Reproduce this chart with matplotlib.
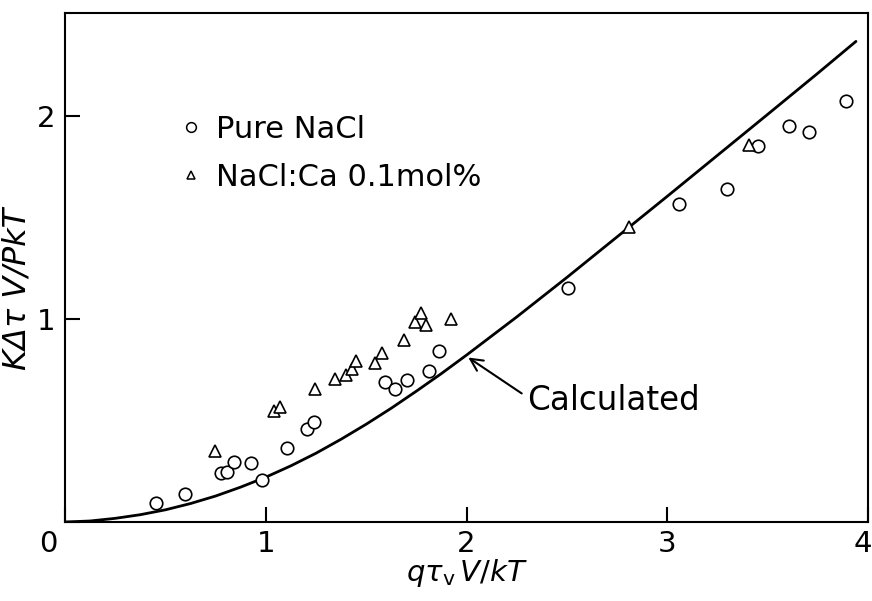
import matplotlib
matplotlib.use("Agg")
import matplotlib.pyplot as plt
from matplotlib.transforms import ScaledTranslation
from matplotlib.lines import Line2D

# --- data ---
pure_x = [0.453, 0.598, 0.777, 0.809, 0.843, 0.927, 0.983, 1.106, 1.204, 1.239,
          1.596, 1.645, 1.702, 1.815, 1.861, 2.507, 3.059, 3.296, 3.450, 3.608,
          3.706, 3.890]
pure_y = [0.095, 0.138, 0.240, 0.248, 0.296, 0.289, 0.205, 0.363, 0.458, 0.493,
          0.691, 0.654, 0.700, 0.745, 0.844, 1.156, 1.568, 1.640, 1.852, 1.954,
          1.923, 2.074]

ca_x = [0.746, 1.043, 1.071, 1.247, 1.345, 1.398, 1.431, 1.450, 1.546, 1.578,
        1.690, 1.745, 1.772, 1.798, 1.924, 2.811, 3.409]
ca_y = [0.351, 0.548, 0.565, 0.655, 0.703, 0.723, 0.755, 0.795, 0.782, 0.831,
        0.897, 0.985, 1.031, 0.969, 1.003, 1.455, 1.857]

calc_x = [0, 0.125, 0.25, 0.375, 0.5, 0.625, 0.75, 0.875, 1.0, 1.125, 1.25,
          1.375, 1.5, 1.625, 1.75, 1.875, 2.0, 2.25, 2.5, 2.75, 3.0, 3.25,
          3.5, 3.75, 3.94]
calc_y = [0, 0.005, 0.018, 0.036, 0.060, 0.091, 0.128, 0.172, 0.221, 0.277,
          0.339, 0.408, 0.482, 0.561, 0.645, 0.732, 0.823, 1.011, 1.206, 1.406,
          1.606, 1.808, 2.010, 2.213, 2.370]

x_ticks = [0, 1, 2, 3, 4]
x_tick_labels = ["0", "1", "2", "3", "4"]
y_ticks = [0, 1, 2]
y_tick_labels = ["", "1", "2"]

legend_labels = ["Pure NaCl", "NaCl:Ca 0.1mol%"]

plt.rcParams['font.family'] = ['DejaVu Sans']
plt.rcParams['mathtext.fontset'] = 'dejavusans'

fig = plt.figure(figsize=(8.72, 6.01), dpi=100)
ax = fig.add_axes([65/872, 1-522/601, (868-65)/872, (522-13)/601])

ax.plot(calc_x, calc_y, color='black', lw=2.0, solid_capstyle='round',
        solid_joinstyle='round')
ax.plot(pure_x, pure_y, linestyle='none', marker='o', ms=9, mfc='white',
        mec='black', mew=1.2)
ax.plot(ca_x, ca_y, linestyle='none', marker='^', ms=8, mfc='white',
        mec='black', mew=1.2)

ax.set_xlim(0, 4)
ax.set_ylim(0, 2.51)
ax.set_xticks(x_ticks)
ax.set_xticklabels(x_tick_labels)
ax.set_yticks(y_ticks)
ax.set_yticklabels(y_tick_labels)
ax.tick_params(direction='in', length=11, width=1.5, labelsize=21, pad=7)
ax.tick_params(axis='x', pad=6)

for s in ax.spines.values():
    s.set_linewidth(1.5)

# corner "0" sits left of the corner; "4" kept inside the figure
xl = ax.get_xticklabels()
xl[0].set_transform(xl[0].get_transform() + ScaledTranslation(-0.17, 0, fig.dpi_scale_trans))
xl[-1].set_transform(xl[-1].get_transform() + ScaledTranslation(-0.05, 0, fig.dpi_scale_trans))

ax.set_xlabel(r'$q\tau_{\mathrm{v}}\,V/kT$', fontsize=21)
ax.xaxis.set_label_coords(0.5, -0.068)
ax.xaxis.label.set_va('top')
ax.set_ylabel('KΔτ V/PkT', fontsize=23, style='italic')
ax.yaxis.set_label_coords(-0.04, 0.458)

handles = [Line2D([], [], linestyle='none', marker='o', ms=7, mfc='white', mec='black', mew=1.1),
           Line2D([], [], linestyle='none', marker='^', ms=6, mfc='white', mec='black', mew=1.1)]
ax.legend(handles, legend_labels, loc='upper left', bbox_to_anchor=(0.138, 0.8),
          frameon=False, fontsize=22, handlelength=1.0, handletextpad=0.3,
          labelspacing=0.62, borderpad=0, borderaxespad=0)

ax.annotate('', xy=(2.009, 0.811), xytext=(2.275, 0.634),
            arrowprops=dict(arrowstyle='->', lw=1.5, color='black',
                            shrinkA=0, shrinkB=0, mutation_scale=22))
ax.text(2.30, 0.60, 'Calculated', fontsize=23.5, ha='left', va='center')

fig.savefig('out.png', dpi=100)
